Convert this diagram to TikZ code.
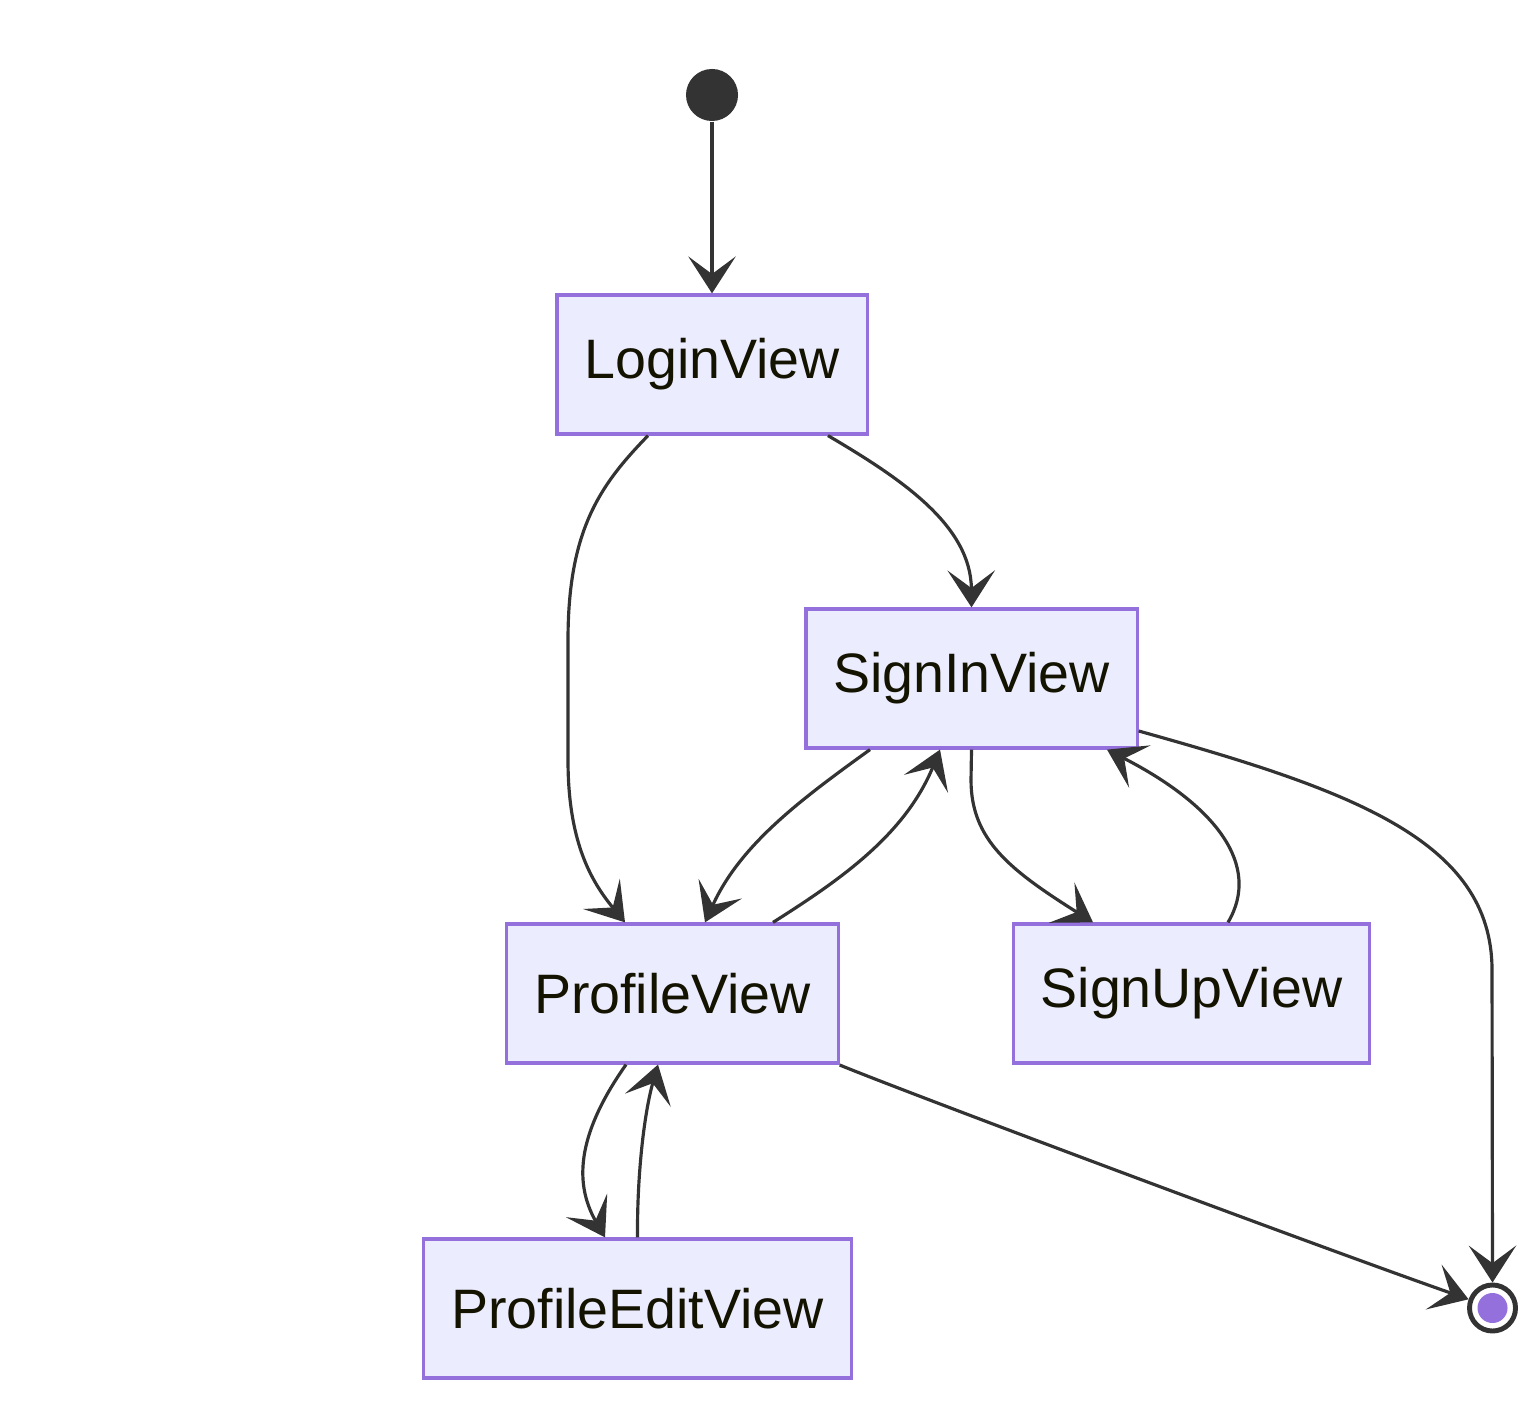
\documentclass[tikz,border=0pt]{standalone}
\usepackage{fontspec}
\setmainfont{Liberation Sans}
\usetikzlibrary{arrows.meta,calc}
\definecolor{lineC}{HTML}{333333}
\definecolor{boxFill}{HTML}{ECECFF}
\definecolor{boxDraw}{HTML}{9370DB}
\definecolor{txtC}{HTML}{131300}
\tikzset{
  statebox/.style={draw=boxDraw,fill=boxFill,line width=0.9pt,minimum height=1.39cm,inner sep=0pt,text=txtC,font=\fontsize{15.8}{19}\selectfont},
  conn/.style={draw=lineC,line width=0.9pt,-{Stealth[length=10.5pt,width=13.5pt,inset=5pt]}}
}
\begin{document}
\begin{tikzpicture}[x=0.01cm,y=-0.01cm]
\useasboundingbox (0,0) rectangle (1534,1410);
\node[circle,fill=lineC,minimum size=0.52cm,inner sep=0pt] (start) at (712,95) {};
\node[statebox,minimum width=3.10cm] (login) at (712,364.5) {LoginView};
\node[statebox,minimum width=3.31cm] (signin) at (971.5,678.5) {SignInView};
\node[statebox,minimum width=3.31cm] (profile) at (672.5,993.5) {ProfileView};
\node[statebox,minimum width=3.55cm] (signup) at (1191.5,993.5) {SignUpView};
\node[statebox,minimum width=4.27cm] (edit) at (637.5,1308.5) {ProfileEditView};
\node[circle,draw=lineC,line width=1.4pt,fill=white,minimum size=0.46cm,inner sep=0pt] (end) at (1492.5,1308) {};
\node[circle,fill=boxDraw,minimum size=0.30cm,inner sep=0pt] (endin) at (end.center) {};

\draw[conn] (start) -- (login.north);
\draw[conn] ($(login.south)+(-64,0)$) .. controls (600,485) and (568,530) .. (568,640) -- (568,760) .. controls (568,840) and (590,880) .. ($(profile.north)+(-47.5,0)$);
\draw[conn] ($(login.south)+(116,0)$) .. controls (900,478) and (971,525) .. (signin.north);
\draw[conn] ($(signin.south)+(-101.5,0)$) .. controls (800,800) and (740,845) .. ($(profile.north)+(32.5,0)$);
\draw[conn] ($(profile.north)+(100.5,0)$) .. controls (840,880) and (905,835) .. ($(signin.south)+(-31.5,0)$);
\draw[conn] (signin.south) -- (971,780) .. controls (971,840) and (1010,870) .. ($(signup.north)+(-98.5,0)$);
\draw[conn] ($(signup.north)+(36.5,0)$) .. controls (1262,865) and (1215,805) .. ($(signin.south)+(135.5,0)$);
\draw[conn] ($(signin.east)+(0,52.5)$) .. controls (1350,790) and (1492,840) .. (1492,970) -- (end.north);
\draw[conn] ($(profile.east)+(0,71.5)$) .. controls (900,1090) and (1300,1240) .. (end.160);
\draw[conn] ($(profile.south)+(-46.5,0)$) .. controls (580,1130) and (572,1180) .. ($(edit.north)+(-32.5,0)$);
\draw[conn] (edit.north) .. controls (637,1170) and (645,1110) .. ($(profile.south)+(-14.5,0)$);
\end{tikzpicture}
\end{document}
